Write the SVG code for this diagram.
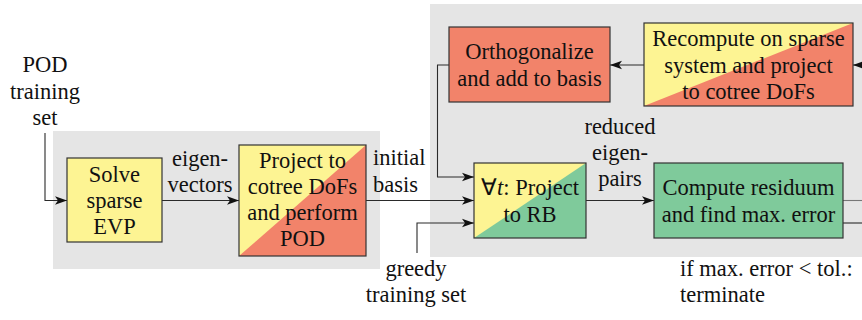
<svg xmlns="http://www.w3.org/2000/svg" width="862" height="320" viewBox="0 0 862 320">
  <defs>
    <style>
      .panel { fill: #e5e5e5; }
      .box { stroke: #333; stroke-width: 1.2; }
      .yellow { fill: #fdf493; }
      .red { fill: #f2836a; }
      .green { fill: #7fca9b; }
      .frame { fill: none; stroke: #333; stroke-width: 1.2; }
      text { font-family: "Liberation Serif", serif; font-size: 22.5px; fill: #111; }
      .c { text-anchor: middle; }
      .wire { fill: none; stroke: #2a2a2a; stroke-width: 1.1; }
      .faint { stroke: #777; }
    </style>
    <marker id="arrow" markerUnits="userSpaceOnUse" markerWidth="13" markerHeight="10" refX="12" refY="5" orient="auto">
      <path d="M12,5 L0,0.8 L3,5 L0,9.2 Z" fill="#111"/>
    </marker>
  </defs>

  <!-- background panels -->
  <rect class="panel" x="53" y="131" width="327" height="138"/>
  <rect class="panel" x="430" y="4" width="440" height="253"/>

  <!-- connectors -->
  <g id="connectors">
    <path class="wire" d="M45,133 V200.5 H67" marker-end="url(#arrow)"/>
    <path class="wire" d="M162,200.5 H239" marker-end="url(#arrow)"/>
    <path class="wire" d="M366,200.5 H474" marker-end="url(#arrow)"/>
    <path class="wire" d="M417,253 V223 H474" marker-end="url(#arrow)"/>
    <path class="wire" d="M449,65 H437.5 V177 H474" marker-end="url(#arrow)"/>
    <path class="wire" d="M586,200.5 H654" marker-end="url(#arrow)"/>
    <path class="wire" d="M644,65 H610" marker-end="url(#arrow)"/>
    <path class="wire" d="M870,65 H853" marker-end="url(#arrow)"/>
    <path class="wire faint" d="M843,200.5 H870"/>
    <path class="wire" d="M843,223 H870"/>
  </g>

  <!-- Solve sparse EVP -->
  <g id="solve-evp">
    <rect class="box yellow" x="67" y="158" width="95" height="84"/>
    <text class="c" x="114.5" y="181.5">Solve</text>
    <text class="c" x="114.5" y="207.5">sparse</text>
    <text class="c" x="114.5" y="233.5">EVP</text>
  </g>

  <!-- Project to cotree DoFs and perform POD -->
  <g id="project-pod">
    <rect class="yellow" x="239" y="145" width="127" height="111"/>
    <polygon class="red" points="366,145 366,256 239,256"/>
    <rect class="frame" x="239" y="145" width="127" height="111"/>
    <text class="c" x="302.5" y="168">Project to</text>
    <text class="c" x="302.5" y="194">cotree DoFs</text>
    <text class="c" x="302.5" y="220">and perform</text>
    <text class="c" x="302.5" y="246">POD</text>
  </g>

  <!-- Project to reduced basis -->
  <g id="project-rb">
    <rect class="yellow" x="474" y="163" width="112" height="75"/>
    <polygon class="green" points="586,163 586,238 474,238"/>
    <rect class="frame" x="474" y="163" width="112" height="75"/>
    <text class="c" x="530" y="195">∀<tspan font-style="italic">t</tspan>: Project</text>
    <text class="c" x="530" y="221.5">to RB</text>
  </g>

  <!-- Compute residuum -->
  <g id="residuum">
    <rect class="box green" x="654" y="163" width="189" height="75"/>
    <text class="c" x="748.5" y="195">Compute residuum</text>
    <text class="c" x="748.5" y="221.5">and find max. error</text>
  </g>

  <!-- Orthogonalize -->
  <g id="orthogonalize">
    <rect class="box red" x="449" y="27" width="161" height="75"/>
    <text class="c" x="529.5" y="59">Orthogonalize</text>
    <text class="c" x="529.5" y="85.5">and add to basis</text>
  </g>

  <!-- Recompute on sparse system -->
  <g id="recompute">
    <rect class="yellow" x="644" y="23" width="209" height="83"/>
    <polygon class="red" points="853,23 853,106 644,106"/>
    <rect class="frame" x="644" y="23" width="209" height="83"/>
    <text class="c" x="748.5" y="46">Recompute on sparse</text>
    <text class="c" x="748.5" y="72.5">system and project</text>
    <text class="c" x="748.5" y="99">to cotree DoFs</text>
  </g>

  <!-- labels -->
  <g id="labels">
    <text class="c" x="45" y="72">POD</text>
    <text class="c" x="45" y="98.5">training</text>
    <text class="c" x="45" y="125">set</text>
    <text class="c" x="200" y="166">eigen-</text>
    <text class="c" x="200" y="192">vectors</text>
    <text x="373" y="165">initial</text>
    <text x="373" y="191.5">basis</text>
    <text class="c" x="620" y="134">reduced</text>
    <text class="c" x="620" y="160">eigen-</text>
    <text class="c" x="620" y="186">pairs</text>
    <text class="c" x="416" y="275.5">greedy</text>
    <text class="c" x="416" y="301.5">training set</text>
    <text x="680" y="275.5">if max. error &lt; tol.:</text>
    <text x="680" y="301.5">terminate</text>
  </g>
</svg>
